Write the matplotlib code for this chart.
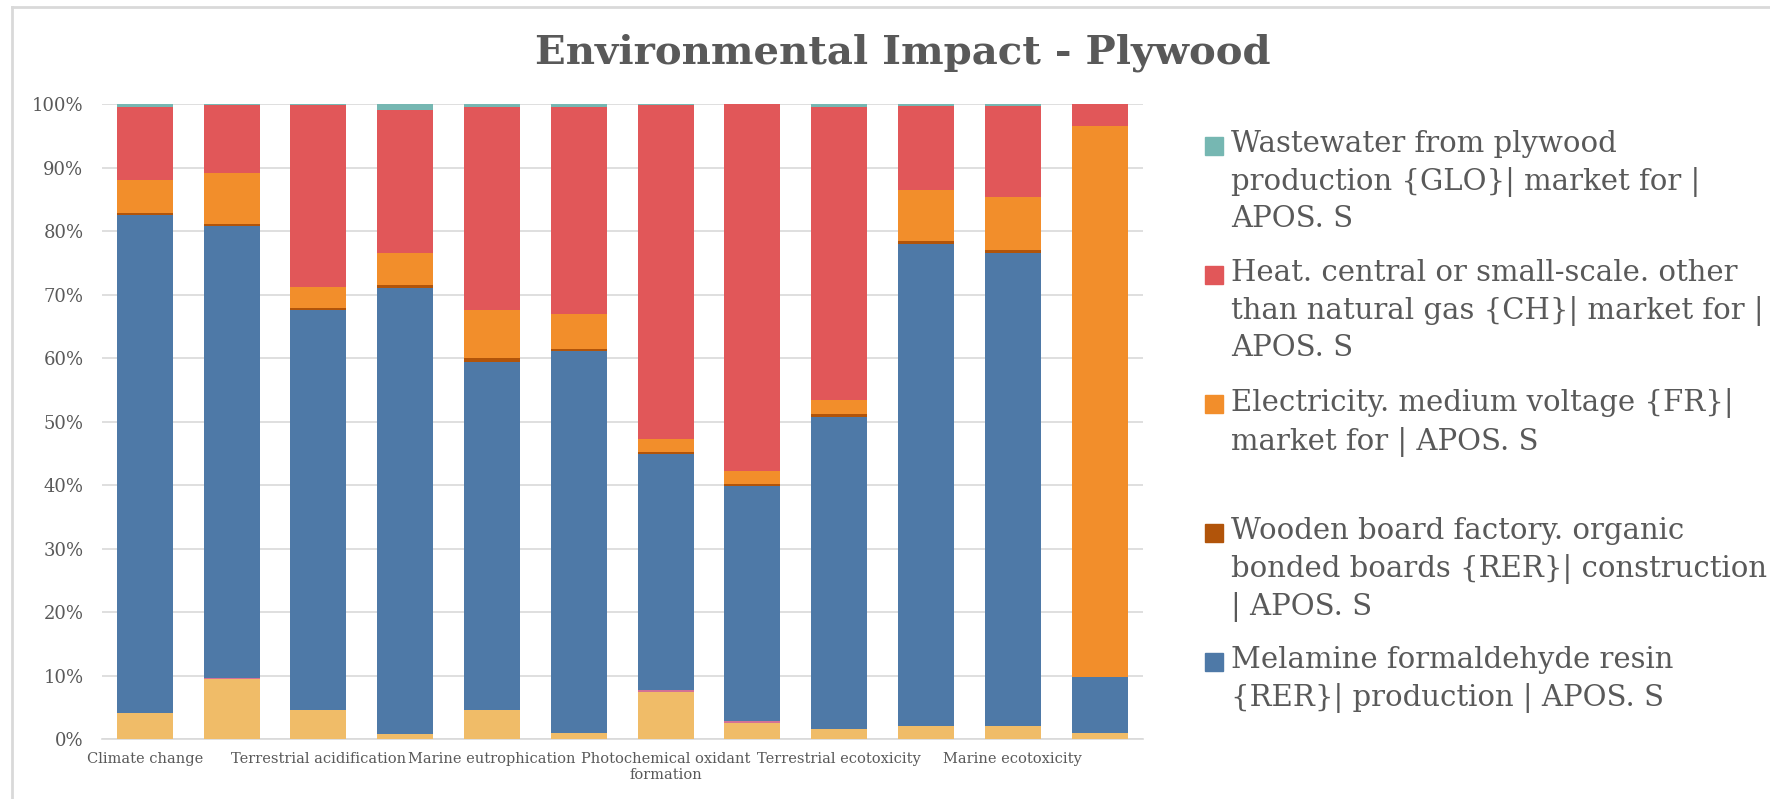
import matplotlib
matplotlib.use('Agg')
import matplotlib.pyplot as plt
from matplotlib.patches import Rectangle
from matplotlib.lines import Line2D
import numpy as np

# category labels as shown (Excel skips every other one)
categories = ['Climate change', '', 'Terrestrial acidification', '', 'Marine eutrophication', '',
              'Photochemical oxidant\nformation', '', 'Terrestrial ecotoxicity', '', 'Marine ecotoxicity', '']

# share of impact in %, bottom to top
unlabelled_yellow = [4.2, 9.45, 4.6, 0.8, 4.6, 1.0, 7.5, 2.6, 1.6, 2.05, 2.05, 0.95]
unlabelled_pink = [0, 0.15, 0, 0, 0, 0, 0.2, 0.25, 0, 0, 0, 0]
melamine = [78.3, 71.2, 63.0, 70.3, 54.8, 60.05, 37.2, 37.0, 49.2, 75.85, 74.45, 8.85]
wooden_board = [0.4, 0.3, 0.35, 0.4, 0.6, 0.4, 0.25, 0.35, 0.35, 0.6, 0.45, 0.05]
electricity = [5.1, 8.1, 3.3, 5.1, 7.6, 5.45, 2.1, 2.0, 2.3, 7.95, 8.4, 86.7]
heat = [11.5, 10.6, 28.6, 22.45, 32.0, 32.7, 52.65, 57.75, 46.0, 13.2, 14.3, 3.4]
wastewater = [0.5, 0.2, 0.15, 0.95, 0.4, 0.4, 0.1, 0.05, 0.55, 0.35, 0.35, 0.05]

legend_labels = [
    'Wastewater from plywood\nproduction {GLO}| market for |\nAPOS. S',
    'Heat. central or small-scale. other\nthan natural gas {CH}| market for |\nAPOS. S',
    'Electricity. medium voltage {FR}|\nmarket for | APOS. S',
    'Wooden board factory. organic\nbonded boards {RER}| construction\n| APOS. S',
    'Melamine formaldehyde resin\n{RER}| production | APOS. S',
]

TEXT = '#595959'
GRID = '#d9d9d9'


def main():
    series = [unlabelled_yellow, unlabelled_pink, melamine, wooden_board, electricity, heat, wastewater]
    colors = ['#F0BC68', '#D37295', '#4E79A7', '#B1540A', '#F28E2B', '#E15759', '#76B7B2']

    W, H = 1770, 799
    fig = plt.figure(figsize=(W / 100, H / 100), dpi=100)
    ax = fig.add_axes([101.5 / W, 1 - 739.3 / H, (1143 - 101.5) / W, 635.3 / H])

    x = np.arange(len(categories))
    bottom = np.zeros(len(categories))
    for vals, col in zip(series, colors):
        vals = np.array(vals, dtype=float)
        ax.bar(x, vals, width=0.645, bottom=bottom, color=col, linewidth=0, zorder=3)
        bottom += vals

    ax.set_xlim(-0.5, len(categories) - 0.5)
    ax.set_ylim(0, 100)
    ax.set_yticks(np.arange(0, 101, 10))
    ax.set_yticklabels([f'{v}%' for v in range(0, 101, 10)])
    ax.set_xticks(x)
    ax.set_xticklabels(categories)
    ax.tick_params(axis='y', length=0, pad=13, labelsize=13, labelcolor=TEXT)
    ax.tick_params(axis='x', length=0, pad=9, labelsize=10.5, labelcolor=TEXT)
    for lbl in ax.get_xticklabels() + ax.get_yticklabels():
        lbl.set_family('DejaVu Serif')
    ax.grid(axis='y', color=GRID, linewidth=1.2, zorder=0)
    for side in ['top', 'right', 'left']:
        ax.spines[side].set_visible(False)
    ax.spines['bottom'].set_color(GRID)
    ax.spines['bottom'].set_linewidth(1.2)

    fig.text(903 / W, 1 - 53 / H, 'Environmental Impact - Plywood', ha='center', va='center',
             fontsize=29, fontweight='bold', family='DejaVu Serif', color=TEXT)

    # legend drawn by hand: equal slots, marker on first line
    for i, (lab, col) in enumerate(zip(legend_labels, [colors[6], colors[5], colors[4], colors[3], colors[2]])):
        top = 132 + i * 129
        fig.patches.append(Rectangle((1205 / W, 1 - (top + 23) / H), 18 / W, 18 / H,
                                     transform=fig.transFigure, color=col))
        fig.text(1231 / W, 1 - (top - 2) / H, lab, ha='left', va='top', fontsize=21,
                 family='DejaVu Serif', color=TEXT, linespacing=1.37)

    # chart area border (left and top visible)
    fig.add_artist(Line2D([12 / W, 1], [1 - 7 / H, 1 - 7 / H], color=GRID, linewidth=2,
                          transform=fig.transFigure))
    fig.add_artist(Line2D([12 / W, 12 / W], [0, 1 - 7 / H], color=GRID, linewidth=2,
                          transform=fig.transFigure))

    fig.savefig('out.png', dpi=100, facecolor='white')


if __name__ == '__main__':
    main()
